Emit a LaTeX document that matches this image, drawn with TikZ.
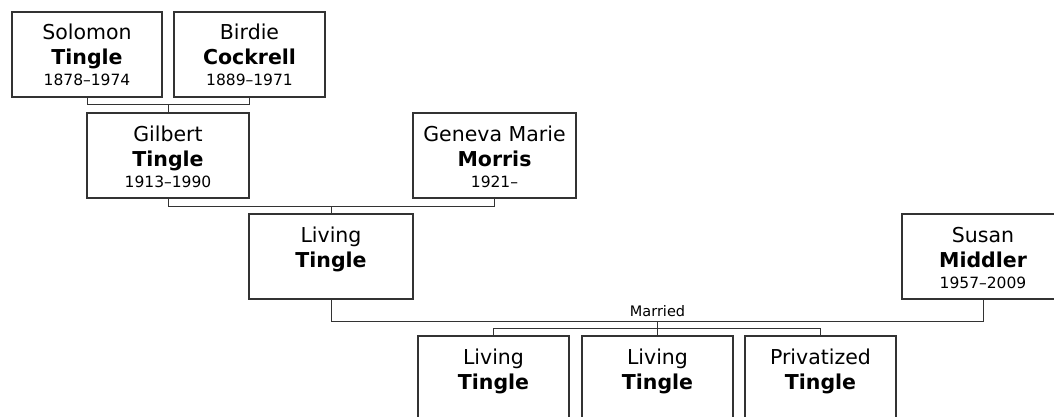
\documentclass[tikz,border=0pt]{standalone}
\usepackage{fontspec}
\setmainfont{DejaVu Sans}
\definecolor{ln}{HTML}{333333}
\tikzset{
  pbox/.style={draw=ln, line width=1.3pt, minimum width=#1, minimum height=85pt,
    inner sep=0pt, outer sep=0pt, anchor=north west},
  given/.style={font=\fontsize{20.5}{24}\selectfont, anchor=base, inner sep=0pt},
  surname/.style={font=\fontsize{20.5}{24}\selectfont\bfseries, anchor=base, inner sep=0pt},
  dates/.style={font=\fontsize{15.5}{18}\selectfont, anchor=base, inner sep=0pt},
  married/.style={font=\fontsize{14.5}{17}\selectfont, anchor=base, inner sep=0pt},
  conn/.style={draw=ln, line width=1pt},
}
\newcommand\personnode[6]{%
  \node[pbox=#4] (#1) at (#2,#3) {};
  \node[given] (#1g) at ([yshift=-28pt]#1.north) {#5};
  \node[surname] (#1s) at ([yshift=-53pt]#1.north) {#6};
}
\begin{document}
\begin{tikzpicture}[x=1pt,y=-1pt]
\useasboundingbox (0,0) rectangle (1054,417);
\clip (0,0) rectangle (1054,417);
\fill[white] (0,0) rectangle (1054,417);
% generation 1
\personnode{sol}{12}{12}{150pt}{Solomon}{Tingle}
\node[dates] (sold) at ([yshift=-74pt]sol.north) {1878–1974};
\personnode{bir}{174}{12}{151pt}{Birdie}{Cockrell}
\node[dates] (bird) at ([yshift=-74pt]bir.north) {1889–1971};
% generation 2
\personnode{gil}{87}{113}{162pt}{Gilbert}{Tingle}
\node[dates] (gild) at ([yshift=-74pt]gil.north) {1913–1990};
\personnode{gen}{413}{113}{163pt}{Geneva Marie}{Morris}
\node[dates] (gend) at ([yshift=-74pt]gen.north) {1921–};
% generation 3
\personnode{liv}{249}{214}{164pt}{Living}{Tingle}
\personnode{sus}{902}{214}{162pt}{Susan}{Middler}
\node[dates] (susd) at ([yshift=-74pt]sus.north) {1957–2009};
% children
\personnode{chA}{418}{336}{151pt}{Living}{Tingle}
\personnode{chB}{582}{336}{151pt}{Living}{Tingle}
\personnode{chC}{745}{336}{151pt}{Privatized}{Tingle}
% connectors
\draw[conn] (sol.south) -- ++(0,8) -| (bir.south);
\draw[conn] (gil.north) -- ++(0,-8);
\draw[conn] (gil.south) -- ++(0,8) -| (gen.south);
\draw[conn] (liv.north) -- ++(0,-8);
\draw[conn] (liv.south) -- ++(0,22) -| (sus.south);
\node[married] (mar) at (657.5,316) {Married};
\coordinate (fam) at (657.5,321);
\draw[conn] (fam) -- (chB.north);
\draw[conn] (chA.north) -- ++(0,-8) -| (chC.north);
\end{tikzpicture}
\end{document}
